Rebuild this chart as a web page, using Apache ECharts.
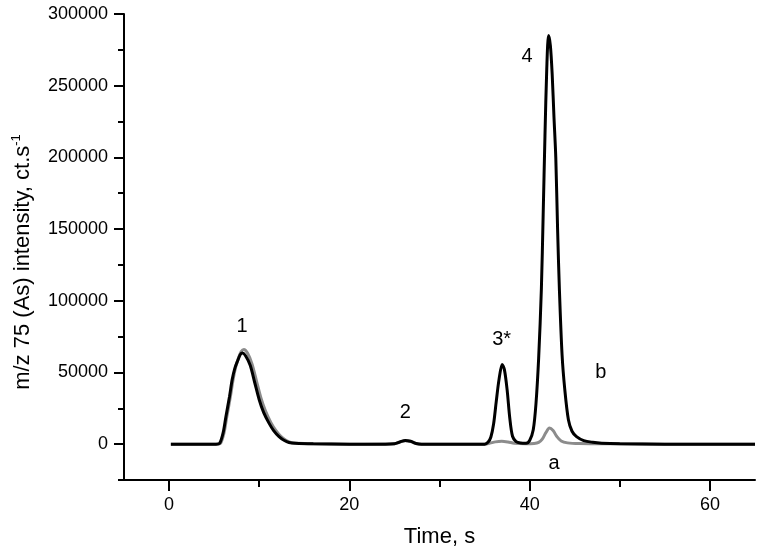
<!DOCTYPE html>
<html>
<head>
<meta charset="utf-8">
<script src="https://cdn.jsdelivr.net/npm/echarts@6/dist/echarts.min.js"></script>
<style>
  html, body { margin: 0; padding: 0; background: #fff; }
  #chart { width: 762px; height: 559px; }
</style>
</head>
<body>
<div id="chart"></div>
<script>
// curve b (black) – time, s / counts
const timeB = [0.2, 2, 4, 5.2, 5.6, 6.0, 6.3, 6.7, 7.0, 7.3, 7.6, 7.9, 8.15, 8.5, 9.0, 9.5, 10.0, 10.5, 11.1, 11.6, 12.2, 12.8, 13.3, 14, 16, 20, 24,
  25, 25.6, 26.2, 26.8, 27.4, 28, 32, 35, 35.4, 35.7, 36.0, 36.3, 36.6, 36.95, 37.2, 37.5, 37.8, 38.1, 38.5, 39.0, 39.6,
  40.0, 40.4, 40.7, 41.0, 41.3, 41.5, 41.7, 41.9, 42.1, 42.3, 42.5, 42.7, 42.9, 43.1, 43.3, 43.6, 43.9, 44.3, 44.7, 45.2,
  46, 47, 48, 50, 55, 60, 65];
const valuesB = [0, 0, 0, 0, 500, 8000, 19000, 33000, 45000, 53000, 58000, 62500, 63500, 61500, 55000, 43000, 31000, 22000, 14500, 9500, 5300, 2500, 1200, 600, 200, 0, 0,
  300, 1500, 2600, 2000, 500, 0, 0, 0, 1500, 5000, 14000, 30000, 45000, 55500, 52000, 38000, 18000, 5500, 1800, 800, 600,
  2500, 10000, 28000, 60000, 108000, 160000, 215000, 262000, 285000, 278000, 258000, 228000, 200000, 150000, 108000, 62000, 38000, 17000, 9000, 5300,
  2500, 1300, 700, 300, 0, 0, 0];

// curve a (grey)
const timeA = [0.2, 5.3, 5.7, 6.1, 6.4, 6.8, 7.1, 7.4, 7.7, 8.0, 8.3, 8.7, 9.2, 9.7, 10.2, 10.7, 11.3, 11.8, 12.4, 13.0, 13.5, 14.2, 16, 20,
  25, 25.6, 26.2, 26.8, 27.4, 28, 35, 35.6, 36.2, 36.9, 37.6, 38.3, 39.5, 40.5, 41.0, 41.4, 41.8, 42.2, 42.6, 43.0, 43.5, 44.2, 45.5, 50, 55, 65];
const valuesA = [0, 0, 500, 8000, 19000, 33000, 45000, 54000, 60000, 64500, 66000, 63500, 56000, 44000, 32000, 23000, 15000, 10000, 5500, 2600, 1200, 600, 200, 0,
  300, 1400, 2400, 1800, 500, 0, 0, 700, 1600, 2000, 1500, 600, 300, 500, 1200, 3500, 8000, 11200, 9500, 5500, 2200, 900, 400, 200, 0, 0];

const xTicks = [0, 20, 40, 60];
const xMinorTicks = [10, 30, 50];
const yTicks = [0, 50000, 100000, 150000, 200000, 250000, 300000];
const yMinorTicks = [-25000, 25000, 75000, 125000, 175000, 225000, 275000];

// peak annotations [time, counts, text]
const peakLabels = [
  [8.1, 81900, '1'],
  [26.2, 21900, '2'],
  [36.9, 73000, '3*'],
  [39.7, 270600, '4'],
  [47.9, 49900, 'b'],
  [42.7, -13700, 'a']
];

const font = '"Liberation Sans", Arial, sans-serif';
const pairs = (xs, ys) => xs.map((x, i) => [x, ys[i]]);

const chart = echarts.init(document.getElementById('chart'), null, { renderer: 'canvas' });

const tickStyle = { color: '#000', width: 2 };

chart.setOption({
  animation: false,
  backgroundColor: '#fff',
  textStyle: { fontFamily: font },
  grid: { left: 124, right: 7, top: 14, bottom: 79, containLabel: false, outerBoundsMode: 'none' },
  xAxis: [
    {
      type: 'value', min: -5, max: 65, position: 'bottom',
      axisLine: { show: true, onZero: false, lineStyle: { color: '#000', width: 2 } },
      splitLine: { show: false },
      axisTick: { customValues: xTicks, length: 11, lineStyle: tickStyle },
      axisLabel: { customValues: xTicks, color: '#000', fontSize: 18, margin: 16, fontFamily: font },
      name: 'Time, s', nameLocation: 'middle', nameGap: 46,
      nameTextStyle: { color: '#000', fontSize: 22, fontFamily: font }
    },
    {
      type: 'value', min: -5, max: 65, position: 'bottom',
      axisLine: { show: false, onZero: false }, splitLine: { show: false },
      axisTick: { show: true, customValues: xMinorTicks, length: 7, lineStyle: tickStyle },
      axisLabel: { show: false }
    }
  ],
  yAxis: [
    {
      type: 'value', min: -25000, max: 300000, position: 'left',
      axisLine: { show: true, onZero: false, lineStyle: { color: '#000', width: 2 } },
      splitLine: { show: false },
      axisTick: { customValues: yTicks, length: 10, lineStyle: tickStyle },
      axisLabel: { customValues: yTicks, color: '#000', fontSize: 18, margin: 16, fontFamily: font, formatter: v => String(v) },
      name: 'm/z 75 (As) intensity, ct.s{sup|-1}', nameLocation: 'middle', nameGap: 88,
      nameTextStyle: {
        color: '#000', fontSize: 22, fontFamily: font, padding: [0, 30, 0, 0],
        rich: { sup: { fontSize: 13, color: '#000', fontFamily: font, verticalAlign: 'top', lineHeight: 26 } }
      }
    },
    {
      type: 'value', min: -25000, max: 300000, position: 'left',
      axisLine: { show: false, onZero: false }, splitLine: { show: false },
      axisTick: { show: true, customValues: yMinorTicks, length: 6, lineStyle: tickStyle },
      axisLabel: { show: false }
    }
  ],
  series: [
    {
      name: 'a', type: 'line', xAxisIndex: 0, yAxisIndex: 0,
      data: pairs(timeA, valuesA), showSymbol: false, smooth: 0.3,
      lineStyle: { color: '#8c8c8c', width: 3 }, z: 2
    },
    {
      name: 'b', type: 'line', xAxisIndex: 0, yAxisIndex: 0,
      data: pairs(timeB, valuesB), showSymbol: false, smooth: 0.3,
      lineStyle: { color: '#000', width: 3 }, z: 3,
      markPoint: {
        symbol: 'circle', symbolSize: 0, silent: true,
        label: { show: true, position: 'inside', color: '#000', fontSize: 20, fontFamily: font },
        data: peakLabels.map(p => ({ coord: [p[0], p[1]], value: p[2], label: { formatter: p[2] } }))
      }
    }
  ]
});
</script>
</body>
</html>
